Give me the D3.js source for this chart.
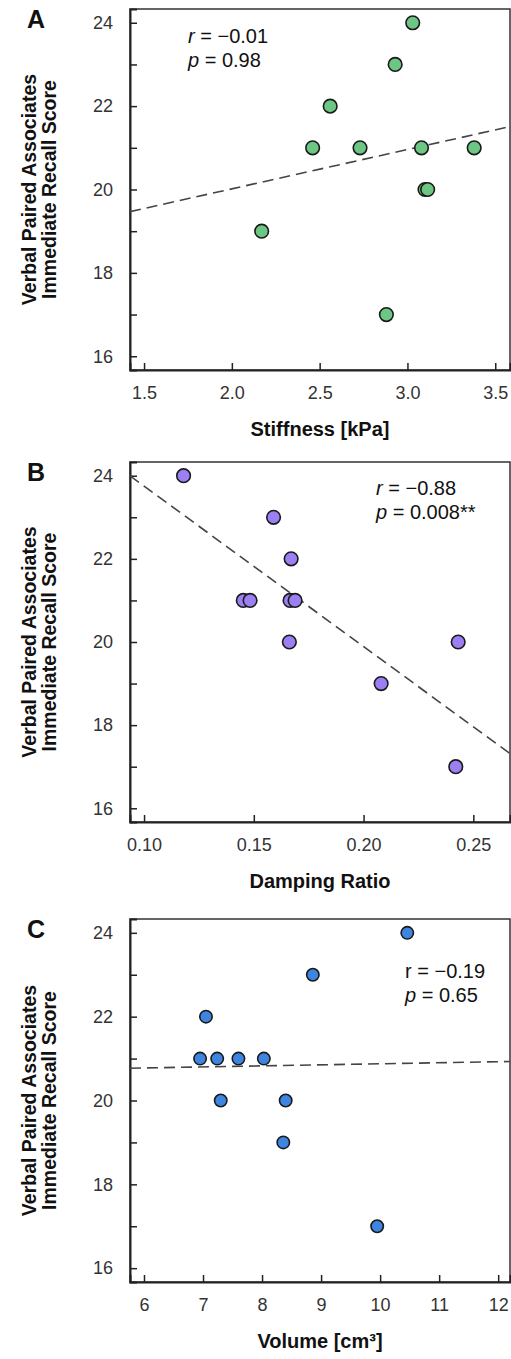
<!DOCTYPE html>
<html>
<head>
<meta charset="utf-8">
<script src="https://cdn.jsdelivr.net/npm/d3@7"></script>
<style>
  html, body { margin: 0; padding: 0; background: #fff; }
  svg { display: block; font-family: "Liberation Sans", Arial, Helvetica, sans-serif; }
</style>
</head>
<body>
<svg id="chart" width="511" height="1359"></svg>
<script>
// Recall scores and the three brain measures they are plotted against
const stiffness   = [3.03, 2.93, 2.56, 2.46, 2.73, 3.08, 3.38, 3.10, 3.115, 2.17, 2.88];
const recallA     = [24, 23, 22, 21, 21, 21, 21, 20, 20, 19, 17];

const dampingRatio = [0.118, 0.159, 0.167, 0.1452, 0.1483, 0.1665, 0.1688, 0.1662, 0.2431, 0.208, 0.242];
const recallB      = [24, 23, 22, 21, 21, 21, 21, 20, 20, 19, 17];

const volume  = [10.46, 8.86, 7.05, 6.95, 7.24, 7.60, 8.03, 7.30, 8.40, 8.36, 9.95];
const recallC = [24, 23, 22, 21, 21, 21, 21, 20, 20, 19, 17];

// Fitted lines (slope, intercept)
const fitA = [0.943, 18.13];
const fitB = [-38.6, 27.61];
const fitC = [0.0249, 20.627];

// Tick values
const yTicks  = [16, 17, 18, 19, 20, 21, 22, 23, 24];
const yLabels = [16, 18, 20, 22, 24];
const xTicksA = [1.5, 2.0, 2.5, 3.0, 3.5];
const xTicksB = [0.10, 0.15, 0.20, 0.25];
const xTicksC = [6, 7, 8, 9, 10, 11, 12];

// Statistics shown in each panel
const statsA = ["−0.01", "0.98"];
const statsB = ["−0.88", "0.008**"];
const statsC = ["−0.19", "0.65"];

const svg = d3.select("#chart");
const yTitle = ["Verbal Paired Associates", "Immediate Recall Score"];

const panels = [
  { letter: "A", top: 9, bottom: 370, x: stiffness, y: recallA, xDomain: [1.42, 3.584], xTicks: xTicksA,
    fmt: d3.format(".1f"), title: "Stiffness [kPa]", fit: fitA, stats: statsA, rItalic: true,
    statX: 188, statY: 34, fill: "#6cc684", r: 6.8 },
  { letter: "B", top: 462, bottom: 822, x: dampingRatio, y: recallB, xDomain: [0.0936, 0.2667], xTicks: xTicksB,
    fmt: d3.format(".2f"), title: "Damping Ratio", fit: fitB, stats: statsB, rItalic: true,
    statX: 376, statY: 33, fill: "#9c80f3", r: 6.8 },
  { letter: "C", top: 919, bottom: 1282, x: volume, y: recallC, xDomain: [5.763, 12.2], xTicks: xTicksC,
    fmt: d3.format("d"), title: "Volume [cm³]", fit: fitC, stats: statsC, rItalic: false,
    statX: 405, statY: 59, fill: "#3d85e0", r: 6.2 }
];

const left = 130, right = 510;

panels.forEach((p, i) => {
  const g = svg.append("g");
  const x = d3.scaleLinear().domain(p.xDomain).range([left, right]);
  const y = d3.scaleLinear().domain([15.67, 24.33]).range([p.bottom, p.top]);

  const clipId = "clip" + i;
  svg.append("clipPath").attr("id", clipId)
    .append("rect").attr("x", left).attr("y", p.top).attr("width", right - left).attr("height", p.bottom - p.top);

  // frame
  g.append("rect")
    .attr("x", left).attr("y", p.top).attr("width", right - left).attr("height", p.bottom - p.top)
    .attr("fill", "none").attr("stroke", "#333").attr("stroke-width", 1.5);

  // y axis: ticks at every integer, labels on even values
  const ya = g.append("g").attr("transform", `translate(${left},0)`)
    .call(d3.axisLeft(y).tickValues(yTicks).tickSize(-7).tickPadding(17)
      .tickFormat(d => yLabels.includes(d) ? d : ""));
  // x axis
  const xa = g.append("g").attr("transform", `translate(0,${p.bottom})`)
    .call(d3.axisBottom(x).tickValues(p.xTicks).tickSize(-7).tickPadding(16).tickFormat(p.fmt));

  [ya, xa].forEach(a => {
    a.select(".domain").attr("stroke", "#222").attr("stroke-width", 2);
    a.selectAll(".tick line").attr("stroke", "#222").attr("stroke-width", 1.5);
    a.selectAll(".tick text").attr("fill", "#333").attr("font-size", 18);
  });

  // dashed fitted line
  g.append("line")
    .attr("clip-path", `url(#${clipId})`)
    .attr("x1", x(p.xDomain[0])).attr("y1", y(p.fit[0] * p.xDomain[0] + p.fit[1]))
    .attr("x2", x(p.xDomain[1])).attr("y2", y(p.fit[0] * p.xDomain[1] + p.fit[1]))
    .attr("stroke", "#444").attr("stroke-width", 1.6).attr("stroke-dasharray", "11,6");

  // points
  g.selectAll("circle.pt").data(p.x.map((v, k) => [v, p.y[k]])).join("circle")
    .attr("class", "pt")
    .attr("cx", d => x(d[0])).attr("cy", d => y(d[1])).attr("r", p.r)
    .attr("fill", p.fill).attr("stroke", "#1a1a1a").attr("stroke-width", 1.6);

  // statistics
  const st = g.append("text").attr("x", p.statX).attr("y", p.top + p.statY)
    .attr("font-size", 20).attr("fill", "#111");
  st.append("tspan").attr("font-style", p.rItalic ? "italic" : "normal").text("r");
  st.append("tspan").text(" = " + p.stats[0]);
  const sp = g.append("text").attr("x", p.statX).attr("y", p.top + p.statY + 24)
    .attr("font-size", 20).attr("fill", "#111");
  sp.append("tspan").attr("font-style", "italic").text("p");
  sp.append("tspan").text(" = " + p.stats[1]);

  // panel letter
  g.append("text").attr("x", 36).attr("y", p.top + 19).attr("text-anchor", "middle")
    .attr("font-size", 25).attr("font-weight", "bold").attr("fill", "#111").text(p.letter);

  // x title
  g.append("text").attr("x", (left + right) / 2).attr("y", p.bottom + 66).attr("text-anchor", "middle")
    .attr("font-size", 20).attr("font-weight", "bold").attr("fill", "#111").text(p.title);

  // y title (two lines)
  const cy = (p.top + p.bottom) / 2;
  yTitle.forEach((t, k) => {
    g.append("text").attr("transform", `translate(${36 + k * 20},${cy}) rotate(-90)`)
      .attr("text-anchor", "middle").attr("font-size", 19.5).attr("font-weight", "bold").attr("fill", "#111").text(t);
  });
});
</script>
</body>
</html>
